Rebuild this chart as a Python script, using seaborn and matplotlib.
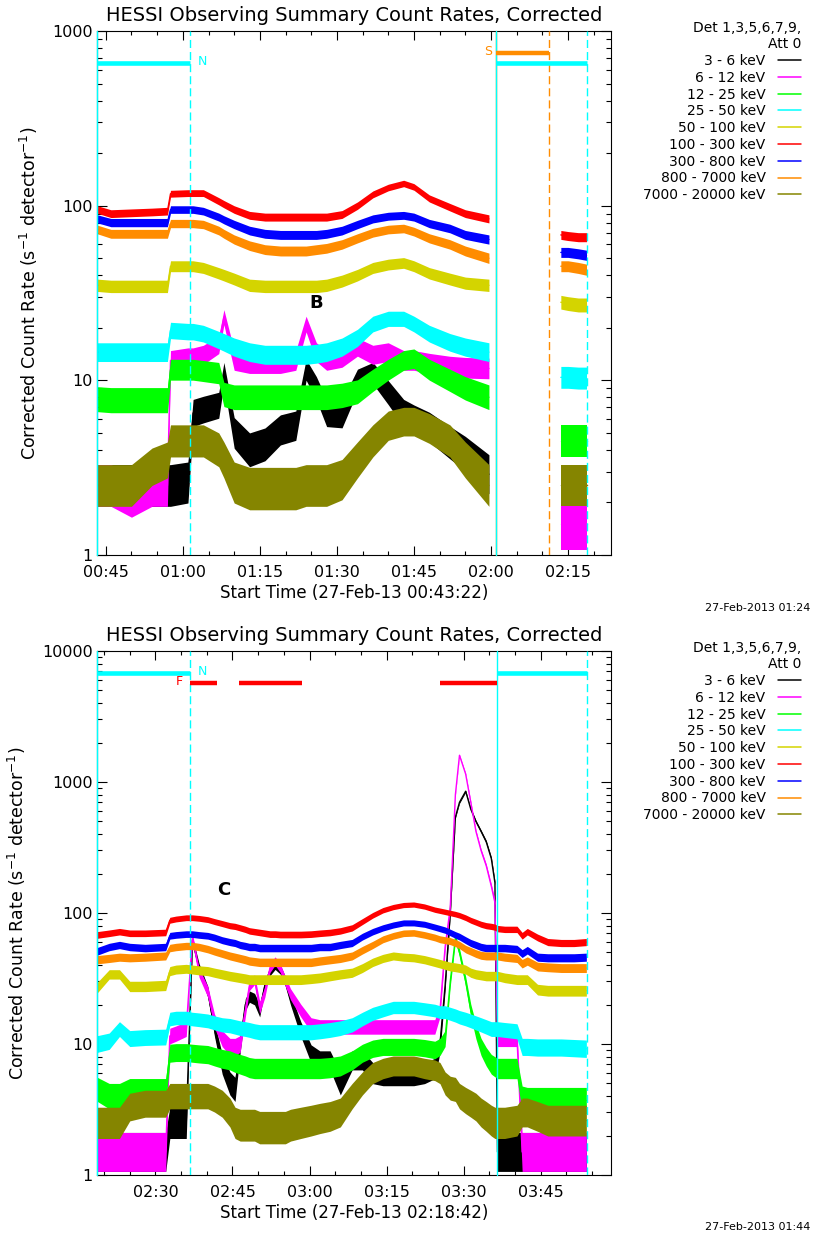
import numpy as np
import pandas as pd
import matplotlib
matplotlib.use("Agg")
import matplotlib.pyplot as plt
from matplotlib.lines import Line2D
from matplotlib.ticker import MultipleLocator, LogLocator, NullFormatter, FuncFormatter
import seaborn as sns

# ---------------------------------------------------------------- data
BAND_LABELS = ["3 - 6 keV", "6 - 12 keV", "12 - 25 keV", "25 - 50 keV", "50 - 100 keV",
               "100 - 300 keV", "300 - 800 keV", "800 - 7000 keV", "7000 - 20000 keV"]
BAND_COLORS = ["#000000", "#ff00ff", "#00ff00", "#00ffff", "#d4d400",
               "#ff0000", "#0000ff", "#ff8c00", "#858500"]

TITLE = "HESSI Observing Summary Count Rates, Corrected"
LEGEND_TITLE = "Det 1,3,5,6,7,9,\nAtt 0"
YLABEL = r"Corrected Count Rate (s$^{-1}$ detector$^{-1}$)"

# ---- top panel (time in minutes of day, 27-Feb-2013; None = data gap)
top_start = 43.367          # 00:43:22
top_xlabel = "Start Time (27-Feb-13 00:43:22)"
top_stamp = "27-Feb-2013 01:24"
top_t = [43.4, 46, 50, 54, 57.0, 57.6, 61, 62, 64, 67, 68, 70, 73, 76, 79, 82, 84,
         86, 88, 91, 94, 97, 100, 103, 105, 108, 112, 115, 119.6, 126,
         133.6, 135, 137, 138.6]
top_3_6 = [2.5, 2.5, 2.5, 2.5, 2.5, 2.5, 2.6, 6.5, 6.8, 7.2, 11, 5, 4, 4.3, 5.2, 5.5, 11.5,
           9, 6.5, 6.4, 10, 11, 8.5, 6.5, 6, 5.4, 4.4, 3.8, 2.9, None,
           2.5, 2.5, 2.5, 2.5]
top_6_12 = [2.5, 2.5, 2.2, 2.5, 2.5, 13, 13.5, 13.5, 14, 16, 23, 13, 12.5, 12.5, 12.5, 13, 21,
            14.5, 13, 13.5, 15.5, 14, 14.5, 13, 13, 12.5, 12, 11.8, 11.7, None,
            1.5, 1.5, 1.5, 1.5]
top_12_25 = [7.8, 7.7, 7.7, 7.7, 7.7, 11.5, 11.5, 11.5, 11.3, 11, 8.3, 8, 8, 8, 8, 8, 8,
             8, 8, 8.2, 8.6, 10, 11.5, 13, 13.3, 11.5, 10, 9, 8, None,
             4.5, 4.5, 4.5, 4.5]
top_25_50 = [14.5, 14.5, 14.5, 14.5, 14.5, 19.3, 19, 19, 18.5, 17, 16.5, 15.5, 14.5, 14, 14, 14, 14,
             14.2, 14.5, 15.5, 17.5, 21, 22.5, 22.5, 21, 18.5, 16.5, 15.5, 14.5, None,
             10.4, 10.4, 10.3, 10.3]
top_50_100 = [35, 34.5, 34.5, 34.5, 34.5, 45, 45, 45, 44, 41, 40, 38, 35, 34.5, 34.5, 34.5, 34.5,
              34.5, 35, 37, 40, 44, 46, 47, 45, 41, 38, 36, 35, None,
              28, 27.5, 27, 27]
top_100_300 = [95, 90, 91, 92, 93, 117, 118, 118, 118, 106, 102, 95, 88, 86, 86, 86, 86,
               86, 86, 89, 100, 116, 127, 134, 128, 110, 98, 90, 84, None,
               68, 67, 66, 66]
top_300_800 = [84, 80, 80, 80, 80, 95, 95, 95, 93, 86, 83, 78, 72, 69, 68, 68, 68,
               68, 69, 72, 78, 84, 87, 88, 86, 79, 74, 68, 64, None,
               54, 54, 53, 52]
top_800_7000 = [73, 69, 69, 69, 69, 79, 79, 79, 78, 72, 69, 64, 59, 56, 55, 55, 55,
                56, 57, 60, 65, 70, 73, 74, 71, 65, 60, 55, 50, None,
                45, 45, 44, 43]
top_7000_20000 = [2.5, 2.5, 2.5, 3.2, 3.5, 4.5, 4.5, 4.5, 4.5, 4, 3.5, 2.6, 2.4, 2.4, 2.4, 2.4, 2.5,
                  2.5, 2.5, 2.7, 3.5, 4.5, 5.5, 5.8, 5.8, 5.3, 4.5, 3.5, 2.5, None,
                  2.5, 2.5, 2.5, 2.5]
top_night = [(43.37, 61.3), (121.05, 138.6)]
top_saa = [(121.05, 131.35)]
top_flare = []

# ---- bottom panel
bot_start = 138.7           # 02:18:42
bot_xlabel = "Start Time (27-Feb-13 02:18:42)"
bot_stamp = "27-Feb-2013 01:44"
bot_t = [138.7, 141, 143, 145, 148, 152.0, 152.8, 154, 156, 157.2,
         158.5, 160.2, 161.5, 163, 164.5, 165.5, 166.5, 167.5, 168.3, 169.3,
         170.3, 171.3, 172.3, 173.3, 174.3, 175.3, 176.3, 178.3, 180.3, 182,
         184, 186, 188.3, 190.3, 192.3, 194.3, 196.3, 198.3, 200.3, 202.4,
         204.4, 205.4, 206.4, 207.4, 208.4, 209.2, 210.4, 211.4, 212.4, 213.4,
         214.4, 215.4, 216.1, 216.6, 218, 220.4, 221.4, 222.4, 224.4, 226.4,
         229, 231.5, 233.9]
bot_3_6 = [1.5, 1.5, 1.5, 1.5, 1.5, 1.5, 2.5, 2.5, 2.5, 62,
           38, 25, 13, 7, 5, 4.5, 10, 20, 23, 22,
           18, 28, 36, 40, 37, 30, 22, 13, 8.4, 7.5,
           7.5, 5, 7.5, 7.5, 6, 5.8, 5.8, 5.8, 5.8, 6,
           6.5, 10, 28, 100, 540, 700, 850, 620, 500, 420,
           350, 260, 170, 1.5, 1.5, 1.5, 1.5, 1.5, 1.5, 1.5,
           1.5, 1.5, 1.5]
bot_6_12 = [1.5, 1.5, 1.5, 1.5, 1.5, 1.5, 11.5, 12, 13, 66,
            35, 25, 15, 11, 9.5, 9.5, 10, 18, 28, 31,
            19, 25, 38, 43, 38, 30, 24, 18, 14, 13.5,
            13.5, 13.5, 13.5, 13.5, 13.5, 13.5, 13.5, 13.5, 13.5, 13.5,
            13.5, 18, 55, 110, 800, 1600, 1150, 700, 420, 300,
            230, 160, 120, 11, 11, 11, 1.5, 1.5, 1.5, 1.5,
            1.5, 1.5, 1.5]
bot_12_25 = [4.5, 4, 4, 4.4, 4.4, 4.4, 8.5, 8.6, 8.6, 8.5,
             8.4, 8.3, 8, 7.7, 7.5, 7.2, 7, 6.8, 6.6, 6.5,
             6.5, 6.5, 6.5, 6.5, 6.5, 6.5, 6.5, 6.5, 6.5, 6.5,
             6.6, 6.8, 7.5, 8.5, 9.2, 9.5, 9.5, 9.5, 9.5, 9.3,
             9, 9.5, 11, 30, 64, 50, 30, 18, 12.5, 9.5,
             8, 7, 6.7, 6.5, 6.5, 6.5, 3.8, 3.7, 3.7, 3.7,
             3.7, 3.7, 3.7]
bot_25_50 = [10, 10.5, 13, 11, 11.2, 11.3, 15.5, 15.8, 15.8, 15.5,
             15.3, 15, 14.5, 14, 13.8, 13.5, 13.2, 13, 12.8, 12.5,
             12.3, 12.3, 12.3, 12.3, 12.3, 12.3, 12.3, 12.3, 12.3, 12.5,
             12.8, 13.2, 14, 15.5, 17, 18, 19, 19, 19, 18.5,
             18, 17.5, 17.5, 17, 16.5, 16, 15.5, 15, 14.5, 14,
             13.5, 13, 13, 13, 12.8, 12.5, 9.5, 9.5, 9.4, 9.4,
             9.4, 9.3, 9.2]
bot_50_100 = [27, 34, 34, 27.5, 27.5, 28, 36, 37, 37.5, 37,
              36.5, 36, 35, 34, 33, 32.5, 32, 31.5, 31, 31,
              31, 31, 31, 31, 31, 31, 31, 31, 31.5, 32,
              33, 34, 35, 38, 42, 45, 47, 46, 45.5, 44,
              42, 41, 40, 39, 38.5, 38, 37, 35, 34, 33.5,
              33, 33, 33, 33, 32, 31, 31, 31, 26, 25.5,
              25.5, 25.5, 25.5]
bot_100_300 = [68, 70, 72, 70, 70, 71, 88, 90, 92, 92,
               91, 89, 86, 83, 80, 79, 77, 75, 73, 72,
               71, 70, 69, 69, 68.5, 68.5, 68.5, 68.5, 69, 70,
               71, 73, 77, 86, 96, 105, 111, 115, 116, 112,
               106, 104, 102, 100, 98, 96, 92, 88, 85, 82,
               80, 79, 78, 76, 75, 75, 67, 72, 65, 60,
               59, 59, 60]
bot_300_800 = [51, 55, 57, 55, 54, 55, 67, 68, 69, 69,
               68, 67, 65, 62, 60, 59, 57, 56, 55, 55,
               54, 54, 54, 54, 54, 54, 54, 54, 54, 55,
               55, 57, 59, 66, 72, 77, 81, 84, 84, 82,
               78, 76, 74, 71, 68, 66, 62, 59, 57, 55,
               54, 54, 54, 54, 54, 53, 49, 52, 46, 45.5,
               45.5, 45.5, 46]
bot_800_7000 = [44, 45, 46, 45.5, 46, 47, 54, 55, 56, 56,
                55, 53, 51, 49, 47, 46, 45, 44, 43, 42.5,
                42, 42, 42, 42, 42, 42, 42, 42, 42, 43,
                44, 45, 47, 52, 57, 63, 67, 70, 70.5, 68,
                65, 63, 62, 61, 59, 57, 53, 51, 49, 47.5,
                47, 47, 47, 47, 46, 45, 41, 43, 39, 38.5,
                38, 38, 38]
bot_7000_20000 = [2.5, 2.5, 2.5, 3.3, 3.5, 3.5, 4, 4, 4, 4,
                  4, 4, 3.8, 3.5, 3, 2.5, 2.4, 2.4, 2.4, 2.4,
                  2.3, 2.3, 2.3, 2.3, 2.3, 2.3, 2.4, 2.5, 2.6, 2.7,
                  2.8, 3, 4, 5, 6, 6.5, 6.8, 6.8, 6.8, 6.5,
                  6.3, 6, 5, 4.6, 4.5, 4, 3.7, 3.5, 3.3, 3,
                  2.8, 2.6, 2.5, 2.5, 2.5, 2.6, 3, 3, 2.8, 2.6,
                  2.6, 2.6, 2.6]
bot_night = [(138.7, 156.65), (216.58, 233.93)]
bot_saa = []
bot_flare = [(156.65, 161.9), (166.35, 178.44), (205.5, 216.58)]

top_series = [top_3_6, top_6_12, top_12_25, top_25_50, top_50_100,
              top_100_300, top_300_800, top_800_7000, top_7000_20000]
bot_series = [bot_3_6, bot_6_12, bot_12_25, bot_25_50, bot_50_100,
              bot_100_300, bot_300_800, bot_800_7000, bot_7000_20000]

# ---------------------------------------------------------------- style
sns.set_theme(style="white")
plt.rcParams["font.family"] = ["DejaVu Sans"]
plt.rcParams["axes.edgecolor"] = "black"
plt.rcParams["axes.linewidth"] = 0.8
plt.rcParams["text.color"] = "black"
plt.rcParams["axes.labelcolor"] = "black"
plt.rcParams["xtick.color"] = "black"
plt.rcParams["ytick.color"] = "black"

CYAN, ORANGE, RED = "#00ffff", "#ff8c00", "#ff0000"
NOISE = 0.5          # counting-statistics band half-width ~ NOISE/sqrt(rate)
W, H = 813.0, 1237.0


def hhmm(m, _pos=None):
    m = int(round(m))
    return f"{m // 60:02d}:{m % 60:02d}"


def draw_panel(ax, t, series, xstart, ymax, night, saa, flare,
               y_night, y_saa, y_flare, xlabel, ylabel_x, letter, letter_xy):
    t = np.asarray(t, dtype=float)
    ax.set_yscale("log")
    for i, (vals, col) in enumerate(zip(series, BAND_COLORS)):
        v = np.array(vals, dtype=float)
        df = pd.DataFrame({"t": t, "rate": v, "seg": np.cumsum(np.isnan(v))}).dropna()
        k = 1 + NOISE / np.sqrt(df["rate"])
        z = 2 + 0.1 * i
        for _, g in df.groupby("seg"):
            kk = k.loc[g.index]
            ax.fill_between(g["t"], g["rate"] / kk, g["rate"] * kk, color=col,
                            lw=0, zorder=z)
        sns.lineplot(data=df, x="t", y="rate", units="seg", estimator=None,
                     color=col, lw=1.0, ax=ax, zorder=z + 0.05, legend=False)

    # observing flags (night, SAA, flare)
    for a, b in saa:
        ax.axvline(a, color=ORANGE, lw=1.0, zorder=4, clip_on=False)
        ax.axvline(b, color=ORANGE, lw=1.0, ls=(0, (5.8, 2.9)), zorder=4)
        ax.hlines(y_saa, a, b, color=ORANGE, lw=3.2, zorder=5)
    for a, b in night:
        ax.axvline(a, color=CYAN, lw=1.0, zorder=4, clip_on=False)
        ax.axvline(b, color=CYAN, lw=1.0, ls=(0, (5.8, 2.9)), zorder=4)
        ax.hlines(y_night, a, b, color=CYAN, lw=3.3, zorder=5)
    for a, b in flare:
        ax.hlines(y_flare, a, b, color=RED, lw=3.2, zorder=5)
    if night:
        ax.text(night[0][1] + 1.6, y_night * 1.03, "N", color=CYAN, fontsize=9,
                ha="left", va="center")
    if saa:
        ax.text(saa[0][0] - 0.9, y_saa * 1.01, "S", color=ORANGE, fontsize=9,
                ha="right", va="center")
    if flare:
        ax.text(flare[0][0] - 1.3, y_flare * 1.03, "F", color=RED, fontsize=9,
                ha="right", va="center")
    ax.text(letter_xy[0], letter_xy[1], letter, fontsize=13, fontweight="bold",
            ha="center", va="center", zorder=6)

    # axes
    ax.set_xlim(xstart, xstart + 100)
    ax.set_ylim(1, ymax)
    ax.xaxis.set_major_locator(MultipleLocator(15))
    ax.xaxis.set_minor_locator(MultipleLocator(5))
    ax.xaxis.set_major_formatter(FuncFormatter(hhmm))
    ax.yaxis.set_major_locator(LogLocator(base=10, numticks=10))
    ax.yaxis.set_minor_locator(LogLocator(base=10, subs=np.arange(2, 10), numticks=40))
    ax.yaxis.set_major_formatter(FuncFormatter(lambda v, p: f"{v:g}"))
    ax.yaxis.set_minor_formatter(NullFormatter())
    ax.tick_params(which="both", direction="in", top=True, right=True,
                   bottom=True, left=True, width=0.8, color="black")
    ax.tick_params(axis="x", which="major", length=6.5, pad=7, labelsize=11.5)
    ax.tick_params(axis="x", which="minor", length=3.2)
    ax.tick_params(axis="y", which="major", length=7.2, pad=3.5, labelsize=11.5)
    ax.tick_params(axis="y", which="minor", length=3.6)
    for sp in ax.spines.values():
        sp.set_color("black")
        sp.set_linewidth(0.8)
        sp.set_zorder(3.5)

    ax.set_xlabel(xlabel, fontsize=12)
    ax.xaxis.label.set_va("center")
    ax.xaxis.set_label_coords(0.5, -0.0731)
    ax.set_ylabel(YLABEL, fontsize=12.5)
    ax.yaxis.label.set_va("center")
    ax.yaxis.set_label_coords(ylabel_x, 0.5)
    ax.set_title(TITLE, fontsize=14, y=1.0305, pad=0, va="center")
    ax.set_facecolor("white")


fig = plt.figure(figsize=(W / 100, H / 100), dpi=100)
fig.patch.set_facecolor("white")
ax_w = 513.6 / W
ax_h = 524 / H
ax1 = fig.add_axes([97.4 / W, 1 - 555 / H, ax_w, ax_h])
ax2 = fig.add_axes([97.4 / W, 1 - 1175 / H, ax_w, ax_h])

draw_panel(ax1, top_t, top_series, top_start, 1000, top_night, top_saa, top_flare,
           653, 752, None, top_xlabel, -0.134, "B", (85.9, 27.7))
draw_panel(ax2, bot_t, bot_series, bot_start, 10000, bot_night, bot_saa, bot_flare,
           6820, None, 5670, bot_xlabel, -0.1565, "C", (163.3, 150))

handles = [Line2D([], [], color=c, lw=1.1) for c in BAND_COLORS]
for ax, yoff, stamp, stamp_y in [(ax1, 0, top_stamp, 608), (ax2, 620, bot_stamp, 1227)]:
    leg = ax.legend(handles, BAND_LABELS, loc="upper right",
                    bbox_to_anchor=(801 / W, 1 - (yoff + 21) / H),
                    bbox_transform=fig.transFigure, frameon=False, markerfirst=False,
                    title=LEGEND_TITLE, title_fontsize=10, fontsize=10,
                    alignment="right", handlelength=1.65, handletextpad=0.9,
                    labelspacing=0.2, borderpad=0, borderaxespad=0)
    leg.get_title().set_multialignment("right")
    fig.text(810 / W, 1 - stamp_y / H, stamp, ha="right", va="center", fontsize=8)

fig.savefig("out.png", dpi=100, facecolor="white")
